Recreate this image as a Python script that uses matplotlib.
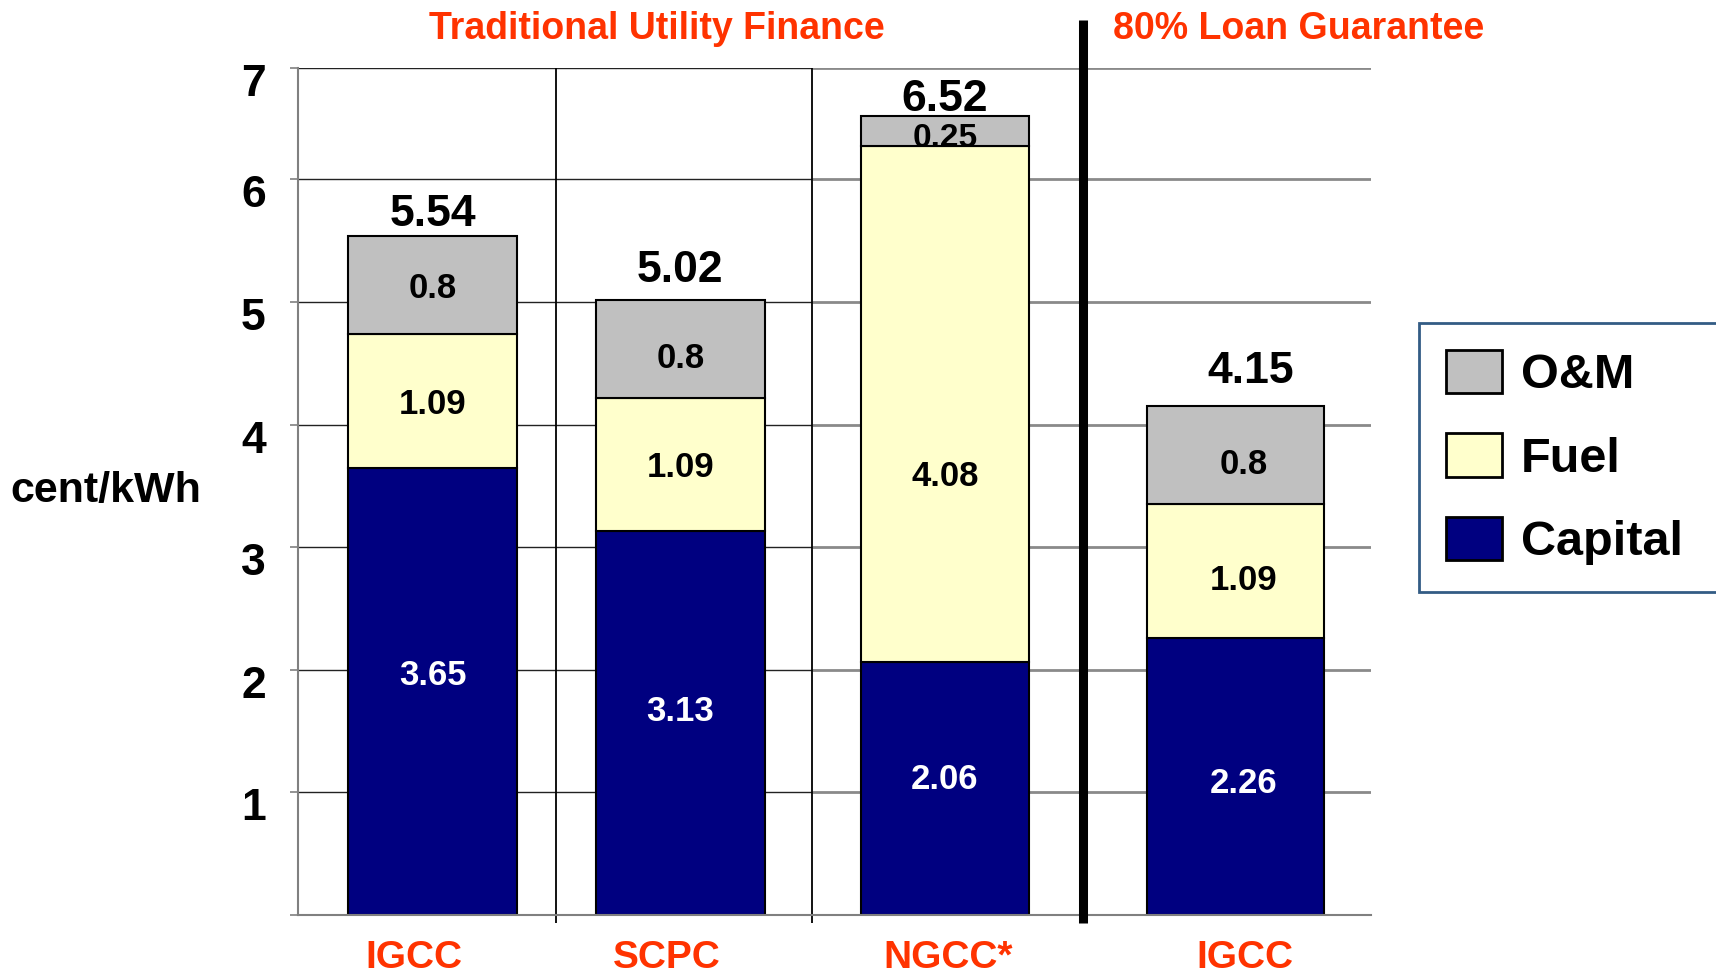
import matplotlib.pyplot as plt
import matplotlib.transforms as mtransforms
from matplotlib.patches import Patch

plt.rcParams["font.family"] = ["Liberation Sans", "DejaVu Sans"]
plt.rcParams["font.weight"] = "bold"

# data
categories = ["IGCC", "SCPC", "NGCC*", "IGCC"]
capital = [3.65, 3.13, 2.06, 2.26]
fuel = [1.09, 1.09, 4.21, 1.09]
om = [0.80, 0.80, 0.25, 0.80]
totals = ["5.54", "5.02", "6.52", "4.15"]
capital_labels = ["3.65", "3.13", "2.06", "2.26"]
fuel_labels = ["1.09", "1.09", "4.08", "1.09"]
om_labels = ["0.8", "0.8", "0.25", "0.8"]
group_titles = ["Traditional Utility Finance", "80% Loan Guarantee"]
y_ticks = [1, 2, 3, 4, 5, 6, 7]

# layout (x in bar-width units)
x_pos = [0.80, 2.27, 3.84, 5.565]
widths = [1.0, 1.0, 1.0, 1.05]
label_x = [0.69, 2.19, 3.86, 5.62]
seg_dx = [0.0, 0.0, 0.0, 0.05]
total_dy = [0.08, 0.14, 0.04, 0.19]
total_dx = [0.0, 0.0, 0.0, 0.09]
cap_nudge = [0.16, 0.12, 0.10, -0.03]
fuel_nudge = [0.0, 0.0, -0.56, -0.05]
om_nudge = [0.0, -0.05, -0.03, -0.05]
thin_seps = [1.53, 3.05]
thick_sep = 4.66
XMAX = 6.37
YMAX = 6.91  # top frame of the original sits a little under the "7"

C_OM, C_FUEL, C_CAP = "#C0C0C0", "#FFFFCC", "#000080"
RED = "#FF3300"

fig = plt.figure(figsize=(17.16, 9.73), dpi=100)
ax = fig.add_axes([0.1735, 0.0597, 0.6256, 0.8705])

# grid: dark and thin on the left, grey and heavier right of NGCC
for y in y_ticks[:-1] + [YMAX]:
    ax.hlines(y, 0, thin_seps[1], color="#222222", lw=1.0, zorder=0)
    ax.hlines(y, thin_seps[1], XMAX, color="#8a8a8a", lw=2.0, zorder=0)

fuel_base = [c for c in capital]
om_base = [c + f for c, f in zip(capital, fuel)]
tops = [c + f + o for c, f, o in zip(capital, fuel, om)]

ax.bar(x_pos, capital, width=widths, color=C_CAP, edgecolor="black", lw=1.5, zorder=2)
ax.bar(x_pos, fuel, width=widths, bottom=fuel_base, color=C_FUEL, edgecolor="black", lw=1.5, zorder=2)
ax.bar(x_pos, om, width=widths, bottom=om_base, color=C_OM, edgecolor="black", lw=1.5, zorder=2)

for i in range(len(categories)):
    xs = x_pos[i] + seg_dx[i]
    ax.text(xs, capital[i] / 2 + cap_nudge[i], capital_labels[i], color="white",
            fontsize=25, ha="center", va="center_baseline", zorder=3)
    ax.text(xs, fuel_base[i] + fuel[i] / 2 + fuel_nudge[i], fuel_labels[i], color="black",
            fontsize=25, ha="center", va="center_baseline", zorder=3)
    ax.text(xs, om_base[i] + om[i] / 2 + om_nudge[i], om_labels[i], color="black",
            fontsize=24 if om[i] < 0.5 else 25, ha="center", va="center_baseline", zorder=3)
    ax.text(x_pos[i] + total_dx[i], tops[i] + total_dy[i], totals[i], color="black",
            fontsize=32, ha="center", va="baseline", zorder=3)

# separators between groups
for xs in thin_seps:
    ax.vlines(xs, -0.0625, YMAX, color="black", lw=1.3, clip_on=False, zorder=1)
ax.vlines(thick_sep, -0.0625, 7.30, color="black", lw=6.5, clip_on=False, zorder=4)

ax.set_xlim(0, XMAX)
ax.set_ylim(0, YMAX)
ax.set_yticks([0] + y_ticks[:-1] + [YMAX])
ax.set_yticklabels([""] + [str(t) for t in y_ticks])
ax.tick_params(axis="y", length=6, width=1.2, color="#808080", pad=17, labelsize=32)
shift = mtransforms.ScaledTranslation(0, -12 / 100, fig.dpi_scale_trans)
for lab in ax.get_yticklabels():
    lab.set_transform(lab.get_transform() + shift)
ax.set_xticks(label_x)
ax.set_xticklabels(categories, color=RED, fontsize=28)
ax.tick_params(axis="x", length=0, pad=18)

for side in ["top", "right"]:
    ax.spines[side].set_visible(False)
ax.spines["left"].set_color("#808080")
ax.spines["left"].set_linewidth(1.5)
ax.spines["bottom"].set_color("#808080")
ax.spines["bottom"].set_linewidth(1.5)

fig.text(106 / 1716, 1 - 491 / 973, "cent/kWh", fontsize=31, ha="center", va="center")
fig.text(657 / 1716, 1 - 29 / 973, group_titles[0], color=RED, fontsize=27, ha="center", va="center")
fig.text(1299 / 1716, 1 - 29 / 973, group_titles[1], color=RED, fontsize=27, ha="center", va="center")

handles = [
    Patch(facecolor=C_OM, edgecolor="black", lw=2, label="O&M"),
    Patch(facecolor=C_FUEL, edgecolor="black", lw=2, label="Fuel"),
    Patch(facecolor=C_CAP, edgecolor="black", lw=2, label="Capital"),
]
leg = fig.legend(handles=handles, loc="upper left",
                 bbox_to_anchor=(1419 / 1716, 0.0, 0.2, 1 - 323 / 973), mode="expand",
                 fontsize=35, frameon=True, fancybox=False, handlelength=1.15, handleheight=1.0,
                 handletextpad=0.4, labelspacing=0.72, borderpad=0.55, borderaxespad=0)
leg.get_frame().set_edgecolor("#003366")
leg.get_frame().set_linewidth(2)

fig.savefig("out.png", dpi=100)
